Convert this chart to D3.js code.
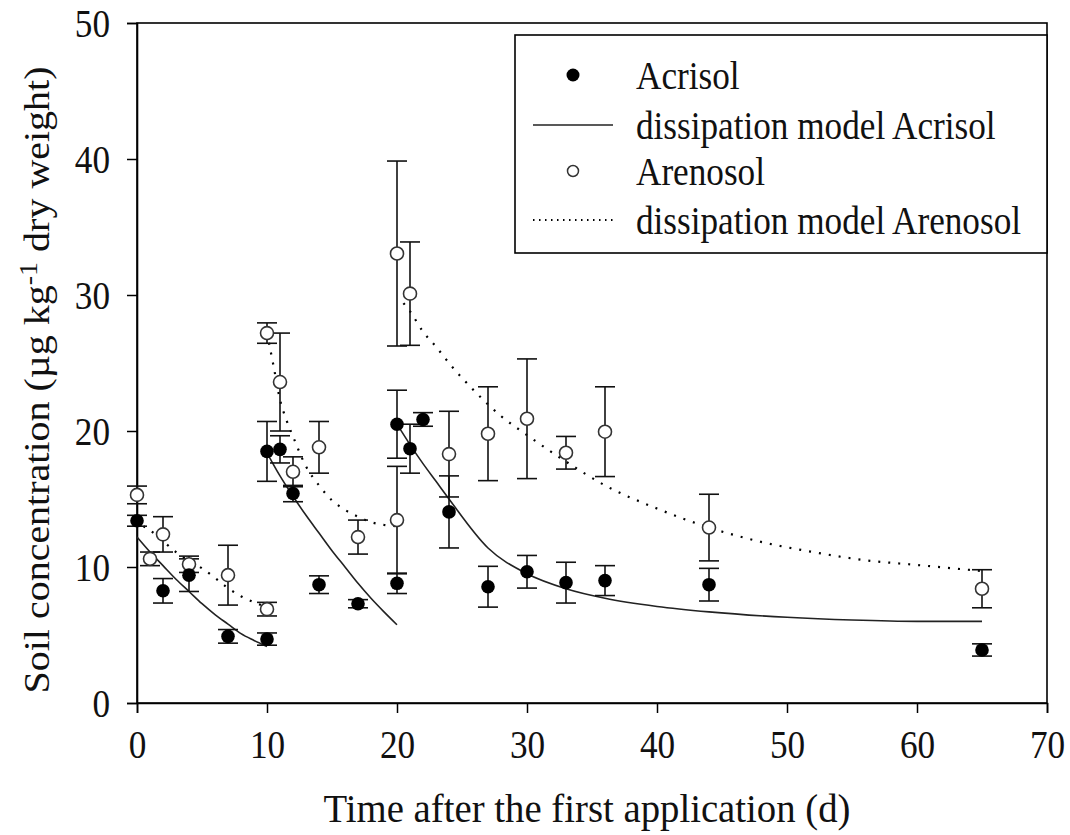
<!DOCTYPE html>
<html>
<head>
<meta charset="utf-8">
<script src="https://cdn.jsdelivr.net/npm/d3@7"></script>
<style>
  html, body { margin: 0; padding: 0; background: #fff; }
  svg { display: block; }
  text { font-family: "Liberation Serif", "Times New Roman", serif; fill: #111; }
</style>
</head>
<body>
<svg id="chart" width="1070" height="835"></svg>
<script>
// ---------- data ----------
const xTicks = [0, 10, 20, 30, 40, 50, 60, 70];
const yTicks = [0, 10, 20, 30, 40, 50];

const acrisolX   = [0, 2, 4, 7, 10, 10, 11, 12, 14, 17, 20, 20, 21, 22, 24, 27, 30, 33, 36, 44, 65];
const acrisolY   = [13.4, 8.25, 9.4, 4.9, 4.7, 18.5, 18.65, 15.4, 8.7, 7.3, 8.8, 20.5, 18.7, 20.85, 14.05, 8.55, 9.65, 8.85, 9.0, 8.7, 3.9];
const acrisolErr = [0.4, 0.9, 1.2, 0.5, 0.45, 2.2, 1.0, 0.6, 0.65, 0.3, 0.75, 2.5, 1.8, 0.5, 2.65, 1.5, 1.2, 1.5, 1.1, 1.2, 0.45];

const arenosolX   = [0, 1, 2, 4, 7, 10, 10, 11, 12, 14, 17, 20, 20, 21, 24, 27, 30, 33, 36, 44, 65];
const arenosolY   = [15.3, 10.6, 12.4, 10.2, 9.4, 6.9, 27.2, 23.6, 17.0, 18.8, 12.2, 13.45, 33.05, 30.1, 18.3, 19.8, 20.9, 18.4, 19.95, 12.9, 8.4];
const arenosolErr = [0.65, 0.5, 1.3, 0.6, 2.2, 0.5, 0.75, 3.6, 1.1, 1.9, 1.25, 3.95, 6.8, 3.8, 3.15, 3.45, 4.4, 1.2, 3.3, 2.45, 1.4];

// dissipation model curves, one array pair per application period
const acrisolFit1X = [0, 1, 2, 3, 4, 5, 6, 7, 8, 9, 10];
const acrisolFit1Y = [12.2, 11.1, 10.1, 9.1, 8.2, 7.3, 6.5, 5.8, 5.1, 4.6, 4.15];
const acrisolFit2X = [10, 11, 12, 13, 14, 15, 16, 17, 18, 19, 20];
const acrisolFit2Y = [18.4, 16.7, 15.2, 13.8, 12.5, 11.2, 10.0, 8.8, 7.7, 6.7, 5.75];
const acrisolFit3X = [20, 21, 22, 23, 24, 27, 30, 33, 36, 40, 44, 50, 55, 60, 65];
const acrisolFit3Y = [20.5, 19.0, 17.6, 16.3, 15.0, 11.4, 9.5, 8.4, 7.7, 7.1, 6.7, 6.3, 6.1, 6.0, 6.0];

const arenosolFit1X = [0.5, 1, 2, 3, 4, 5, 6, 7, 8, 9, 10];
const arenosolFit1Y = [13.0, 12.7, 11.9, 11.1, 10.45, 9.9, 9.2, 8.45, 7.85, 7.4, 7.05];
const arenosolFit2X = [10, 10.5, 11, 11.5, 12, 13, 14, 15, 16, 17, 18, 19, 20];
const arenosolFit2Y = [27.2, 24.8, 22.3, 20.8, 19.6, 17.4, 16.0, 14.9, 14.2, 13.7, 13.3, 13.1, 13.0];
const arenosolFit3X = [20.5, 21, 22, 23, 24, 26, 28, 30, 33, 36, 40, 44, 48, 52, 56, 60, 65];
const arenosolFit3Y = [29.4, 28.8, 27.3, 26.2, 25.0, 22.9, 21.1, 19.7, 17.75, 16.0, 14.3, 12.9, 11.85, 11.1, 10.5, 10.15, 9.7];

const legendLabels = ["Acrisol", "dissipation model Acrisol", "Arenosol", "dissipation model Arenosol"];
const xTitle = "Time after the first application (d)";

// ---------- layout ----------
const svg = d3.select("#chart");
const L = 137, R = 1047, T = 23, B = 703;
const x = d3.scaleLinear().domain([0, 70]).range([L, R]);
const y = d3.scaleLinear().domain([0, 50]).range([B, T]);
const SX = 0.88;   // horizontal squeeze of the glyphs
const FS = 40;

const zip = (xs, ys) => xs.map((v, i) => [v, ys[i]]);

// frame
svg.append("rect").attr("x", L).attr("y", T).attr("width", R - L).attr("height", B - T)
  .attr("fill", "none").attr("stroke", "#000").attr("stroke-width", 1.6);

// axes
const gx = svg.append("g").attr("transform", `translate(0,${B})`)
  .call(d3.axisBottom(x).tickValues(xTicks).tickSize(10).tickFormat(d3.format("d")));
const gy = svg.append("g").attr("transform", `translate(${L},0)`)
  .call(d3.axisLeft(y).tickValues(yTicks).tickSize(10).tickFormat(d3.format("d")));
[gx, gy].forEach(g => {
  g.select(".domain").attr("stroke", "#000").attr("stroke-width", 1.6);
  g.selectAll(".tick line").attr("stroke", "#000").attr("stroke-width", 1.5);
  g.selectAll(".tick text").attr("font-family", "Liberation Serif, serif")
    .attr("font-size", FS).attr("fill", "#111");
});
gx.selectAll(".tick text").attr("y", 55).attr("dy", 0).attr("transform", `scale(${SX},1)`);
gy.selectAll(".tick text").attr("x", -27 / SX).attr("dy", 0).attr("y", 13)
  .attr("transform", `scale(${SX},1)`);

// axis titles
svg.append("text")
  .attr("x", 587).attr("y", 822)
  .attr("text-anchor", "middle").attr("font-size", FS)
  .attr("textLength", 527).attr("lengthAdjust", "spacingAndGlyphs")
  .text(xTitle);

const yt = svg.append("text")
  .attr("transform", `translate(49,380) rotate(-90) scale(1,${SX})`)
  .attr("text-anchor", "middle").attr("font-size", FS);
yt.append("tspan").text("Soil concentration (\u00B5g kg");
yt.append("tspan").attr("dy", -14).attr("font-size", 28).text("-1");
yt.append("tspan").attr("dy", 14).text(" dry weight)");

// model lines
const line = d3.line().x(d => x(d[0])).y(d => y(d[1])).curve(d3.curveMonotoneX);
[[acrisolFit1X, acrisolFit1Y], [acrisolFit2X, acrisolFit2Y], [acrisolFit3X, acrisolFit3Y]].forEach(([xs, ys]) => {
  svg.append("path").attr("d", line(zip(xs, ys))).attr("fill", "none")
    .attr("stroke", "#222").attr("stroke-width", 1.6);
});
[[arenosolFit1X, arenosolFit1Y], [arenosolFit2X, arenosolFit2Y], [arenosolFit3X, arenosolFit3Y]].forEach(([xs, ys]) => {
  svg.append("path").attr("d", line(zip(xs, ys))).attr("fill", "none")
    .attr("stroke", "#000").attr("stroke-width", 2.2).attr("stroke-dasharray", "2,8");
});

// error bars
function errorBars(xs, ys, es) {
  const g = svg.append("g").attr("stroke", "#111").attr("stroke-width", 1.6);
  xs.forEach((xv, i) => {
    const cx = x(xv), y1 = y(ys[i] + es[i]), y2 = y(ys[i] - es[i]);
    g.append("line").attr("x1", cx).attr("x2", cx).attr("y1", y1).attr("y2", y2);
    g.append("line").attr("x1", cx - 10).attr("x2", cx + 10).attr("y1", y1).attr("y2", y1);
    g.append("line").attr("x1", cx - 10).attr("x2", cx + 10).attr("y1", y2).attr("y2", y2);
  });
}
errorBars(arenosolX, arenosolY, arenosolErr);
errorBars(acrisolX, acrisolY, acrisolErr);

// markers
svg.append("g").selectAll("circle").data(zip(arenosolX, arenosolY)).join("circle")
  .attr("cx", d => x(d[0])).attr("cy", d => y(d[1])).attr("r", 6.5)
  .attr("fill", "#fff").attr("stroke", "#333").attr("stroke-width", 1.6);
svg.append("g").selectAll("circle").data(zip(acrisolX, acrisolY)).join("circle")
  .attr("cx", d => x(d[0])).attr("cy", d => y(d[1])).attr("r", 6.8)
  .attr("fill", "#000");

// legend
const lg = svg.append("g");
lg.append("rect").attr("x", 515).attr("y", 35).attr("width", R - 515).attr("height", 218)
  .attr("fill", "#fff").attr("stroke", "#000").attr("stroke-width", 1.6);
const rowY = [75, 125, 171, 220];
lg.append("circle").attr("cx", 573).attr("cy", rowY[0]).attr("r", 6.5).attr("fill", "#000");
lg.append("line").attr("x1", 533).attr("x2", 613).attr("y1", rowY[1]).attr("y2", rowY[1])
  .attr("stroke", "#222").attr("stroke-width", 1.6);
lg.append("circle").attr("cx", 573).attr("cy", rowY[2]).attr("r", 5.5).attr("fill", "#fff")
  .attr("stroke", "#333").attr("stroke-width", 1.5);
lg.append("line").attr("x1", 533).attr("x2", 613).attr("y1", rowY[3]).attr("y2", rowY[3])
  .attr("stroke", "#000").attr("stroke-width", 1.8).attr("stroke-dasharray", "1.5,4.5");
legendLabels.forEach((t, i) => {
  lg.append("text").attr("transform", `translate(636,${rowY[i] + 14}) scale(${SX},1)`)
    .attr("font-size", FS).text(t);
});
</script>
</body>
</html>
